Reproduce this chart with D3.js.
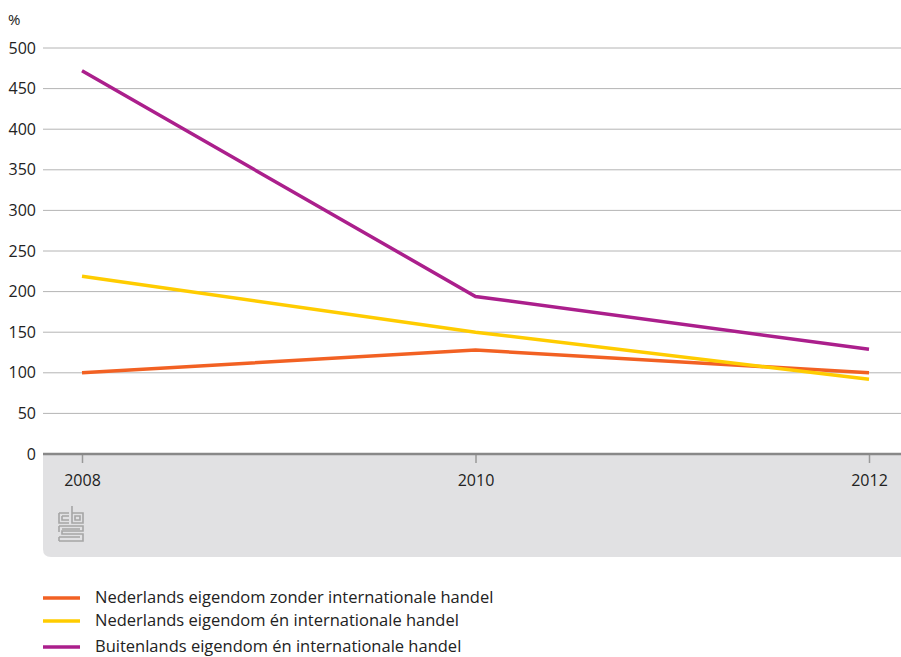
<!DOCTYPE html>
<html lang="nl">
<head>
<meta charset="UTF-8">
<title>Eigendom en handel</title>
<script src="https://d3js.org/d3.v7.min.js"></script>
<style>
  body { margin: 0; background: #fff; }
  text { font-family: "Open Sans", "Noto Sans", sans-serif; fill: #222; }
</style>
</head>
<body>
<div class="canvas"></div>
<script>
const years = [2008, 2010, 2012];
const seriesNames = [
  'Nederlands eigendom zonder internationale handel',
  'Nederlands eigendom én internationale handel',
  'Buitenlands eigendom én internationale handel'
];
const nlZonder = [100, 128, 100];
const nlMet = [219, 150, 92];
const buitenland = [472, 194, 129];
const colors = ['#f26123', '#ffcc00', '#ab1f8c'];
const yTicks = [0, 50, 100, 150, 200, 250, 300, 350, 400, 450, 500];

const width = 901, height = 657;
const mLeft = 43, mRight = 901, mTop = 48, mBottom = 454;
const fontSize = '16px';

const svg = d3.select('.canvas').append('svg')
  .attr('width', width).attr('height', height);

// grijze band onder de x-as
const bandH = 103, r = 8;
svg.append('path')
  .attr('d', `M${mLeft},${mBottom} H${mRight} V${mBottom + bandH} H${mLeft + r} Q${mLeft},${mBottom + bandH} ${mLeft},${mBottom + bandH - r} Z`)
  .attr('fill', '#e1e1e3');

const x = d3.scaleLinear().domain([2008, 2012]).range([82, 869]);
const y = d3.scaleLinear().domain([0, 500]).range([mBottom, mTop]);

// rasterlijnen
svg.append('g').selectAll('line').data(yTicks.filter(d => d > 0)).join('line')
  .attr('x1', mLeft).attr('x2', mRight)
  .attr('y1', d => y(d)).attr('y2', d => y(d))
  .attr('stroke', '#b4b4b4').attr('stroke-width', 1);

// y-as labels
const yAxis = d3.axisLeft(y).tickValues(yTicks).tickSize(0).tickPadding(7);
const yG = svg.append('g').attr('transform', `translate(${mLeft},0)`).call(yAxis);
yG.select('.domain').remove();
yG.selectAll('text').style('font-size', fontSize).attr('fill', '#222')
  .style('font-family', '"Open Sans", "Noto Sans", sans-serif');

svg.append('text').attr('x', 8).attr('y', 25).text('%').style('font-size', '15px');

// x-as
const xAxis = d3.axisBottom(x).tickValues(years).tickFormat(d3.format('d')).tickSize(9).tickPadding(12);
const xG = svg.append('g').attr('transform', `translate(0,${mBottom})`).call(xAxis);
xG.select('.domain').remove();
xG.selectAll('line').attr('stroke', '#999').attr('stroke-width', 1.5);
xG.selectAll('text').style('font-size', fontSize).attr('fill', '#222')
  .style('font-family', '"Open Sans", "Noto Sans", sans-serif');
svg.append('line').attr('x1', mLeft).attr('x2', mRight).attr('y1', mBottom).attr('y2', mBottom)
  .attr('stroke', '#888').attr('stroke-width', 2.5);

// lijnen
const data = [nlZonder, nlMet, buitenland];
const line = d3.line().x((d, i) => x(years[i])).y(d => y(d));
svg.append('g').selectAll('path').data(data).join('path')
  .attr('d', line)
  .attr('fill', 'none')
  .attr('stroke', (d, i) => colors[i])
  .attr('stroke-width', 3.5);

// cbs-logo (vereenvoudigd)
const logo = svg.append('g').attr('transform', 'translate(58,505)')
  .attr('fill', 'none').attr('stroke', '#a5a5a5').attr('stroke-width', 1.6);
logo.append('path').attr('d', 'M1,8 H11 M1,8 V18 H11 M4,11 H11 M4,11 V15 H11');
logo.append('path').attr('d', 'M14,1 V18 H25 V8 H14 M17,11 H22 V15 H17 Z');
logo.append('path').attr('d', 'M1,21 H25 V26 H4 V29 H25 V36 H1 M1,21 V27 M4,24 H22 M1,32 H22 M1,36 V32');

// legenda
const leg = svg.append('g').selectAll('g').data(seriesNames).join('g')
  .attr('transform', (d, i) => `translate(0,${[598, 621, 647][i]})`);
leg.append('line').attr('x1', 43).attr('x2', 80).attr('y1', 0).attr('y2', 0)
  .attr('stroke', (d, i) => colors[i]).attr('stroke-width', 3.5);
leg.append('text').attr('x', 95).attr('y', 0).attr('dy', '0.33em')
  .text(d => d).style('font-size', '16.5px');
</script>
</body>
</html>
